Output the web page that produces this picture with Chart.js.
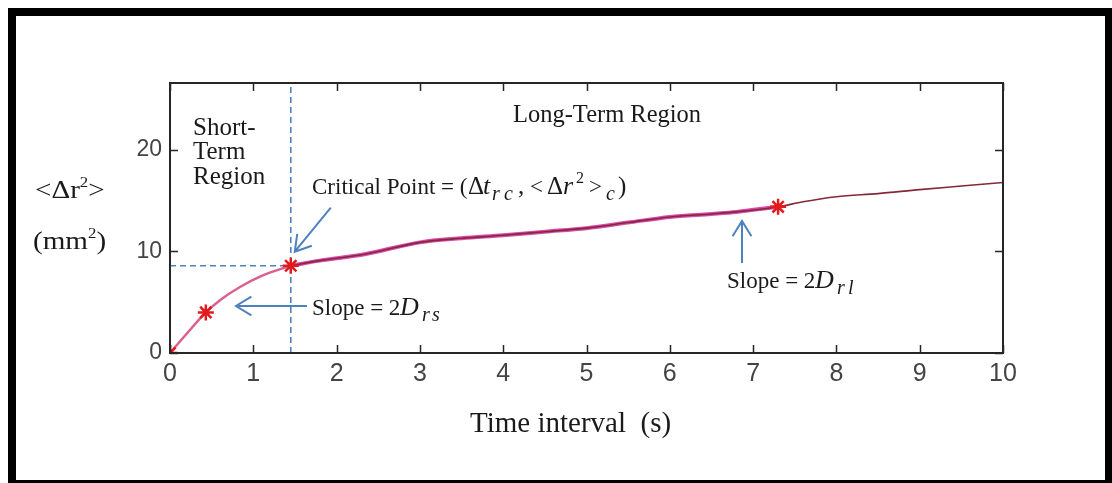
<!DOCTYPE html>
<html>
<head>
<meta charset="utf-8">
<script src="https://cdn.jsdelivr.net/npm/chart.js@4.4.1/dist/chart.umd.min.js"></script>
<style>
  body { margin: 0; background: #fff; }
  #wrap { position: relative; width: 1112px; height: 483px; overflow: hidden; background: #fff; }
  #myChart { position: absolute; left: 0; top: 0; }
  #frame {
    position: absolute; left: 8px; top: 8px; width: 1104px; height: 475px;
    box-sizing: border-box; border: solid #000; border-width: 8px 7px 3px 8px;
    pointer-events: none;
  }
</style>
</head>
<body>
<div id="wrap">
  <canvas id="myChart" width="1112" height="483"></canvas>
  <div id="frame"></div>
</div>
<script>
// MSD curve
const timeVals = [0, 0.2, 0.43, 0.6, 0.84, 1.1, 1.45, 1.8, 2.32, 3, 3.5, 4, 4.5, 5, 5.5, 6, 6.5, 6.8, 7.3, 7.6, 8, 8.5, 9, 9.5, 10];
const msdVals  = [0, 1.9, 4.0, 5.2, 6.5, 7.6, 8.6, 9.1, 9.7, 10.9, 11.3, 11.6, 11.95, 12.3, 12.85, 13.4, 13.7, 13.9, 14.4, 14.9, 15.4, 15.7, 16.1, 16.45, 16.8];

// red star markers
const starTime = [0, 0.43, 1.45, 7.3];
const starMsd  = [0, 4.0, 8.6, 14.4];

// critical point
const critTime = 1.45;
const critMsd = 8.6;

// axes
const xTickVals = [0, 1, 2, 3, 4, 5, 6, 7, 8, 9, 10];
const yTickVals = [0, 10, 20];
const xMax = 10;
const yMax = 26.6;

const pts = (xs, ys) => xs.map((x, i) => ({ x: x, y: ys[i] }));
const allPts = pts(timeVals, msdVals);
const shortPts = allPts.filter(p => p.x <= critTime);
const longPts = allPts.filter(p => p.x >= critTime);
const midPts = allPts.filter(p => p.x >= critTime && p.x <= 7.3);

const serif = '"Liberation Serif", "Times New Roman", serif';
const sans = '"Liberation Sans", Arial, sans-serif';
const blue = '#4f81bd';

// runs of text, each one placed at its own x (relative to x0)
const drawAt = (ctx, x0, y0, parts) => {
  parts.forEach(p => {
    ctx.font = p.f;
    ctx.fillText(p.t, x0 + p.x, y0 + (p.dy || 0));
  });
};

// runs of text placed one after the other
const drawRuns = (ctx, x, y, parts) => {
  parts.forEach(p => {
    ctx.font = p.f;
    ctx.fillText(p.t, x, y + (p.dy || 0));
    x += ctx.measureText(p.t).width + (p.gap || 0);
  });
};

const drawArrow = (ctx, x1, y1, x2, y2) => {
  const ang = Math.atan2(y2 - y1, x2 - x1);
  const len = 18, spread = 0.55;
  ctx.beginPath();
  ctx.moveTo(x1, y1);
  ctx.lineTo(x2, y2);
  ctx.moveTo(x2 - len * Math.cos(ang - spread), y2 - len * Math.sin(ang - spread));
  ctx.lineTo(x2, y2);
  ctx.lineTo(x2 - len * Math.cos(ang + spread), y2 - len * Math.sin(ang + spread));
  ctx.stroke();
};

const decor = {
  id: 'decor',
  afterDatasetsDraw(chart) {
    const ctx = chart.ctx;
    const a = chart.chartArea;
    const xs = chart.scales.x, ys = chart.scales.y;
    ctx.save();

    // box + inward ticks
    ctx.strokeStyle = '#262626';
    ctx.lineWidth = 2;
    ctx.strokeRect(a.left, a.top, a.right - a.left, a.bottom - a.top);
    ctx.lineWidth = 1.5;
    ctx.beginPath();
    xTickVals.forEach(v => {
      const px = Math.round(xs.getPixelForValue(v)) + 0.5;
      ctx.moveTo(px, a.bottom); ctx.lineTo(px, a.bottom - 8);
      ctx.moveTo(px, a.top); ctx.lineTo(px, a.top + 8);
    });
    yTickVals.forEach(v => {
      const py = Math.round(ys.getPixelForValue(v)) + 0.5;
      ctx.moveTo(a.left, py); ctx.lineTo(a.left + 8, py);
      ctx.moveTo(a.right, py); ctx.lineTo(a.right - 8, py);
    });
    ctx.stroke();

    // arrows
    ctx.strokeStyle = blue;
    ctx.lineWidth = 2;
    const cx = xs.getPixelForValue(critTime), cy = ys.getPixelForValue(critMsd);
    drawArrow(ctx, cx + 40, cy - 58, cx + 4, cy - 14);
    drawArrow(ctx, 307, 306, 236, 306);
    drawArrow(ctx, 742, 263, 742, 221);

    // texts
    ctx.fillStyle = '#1a1a1a';
    ctx.textBaseline = 'alphabetic';
    ctx.textAlign = 'left';
    ctx.font = '25px ' + serif;
    ctx.fillText('Short-', 193, 135);
    ctx.fillText('Term', 193, 159);
    ctx.fillText('Region', 193, 184);
    ctx.font = '24.5px ' + serif;
    ctx.fillText('Long-Term Region', 513, 122);

    const n23 = '23px ' + serif;
    const n25 = '25px ' + serif;
    const i26 = 'italic 26px ' + serif;
    const i20 = 'italic 20px ' + serif;
    const n16 = '16px ' + serif;
    drawAt(ctx, 312, 194, [
      { t: 'Critical Point = (', f: n23, x: 0 },
      { t: 'Δ', f: n25, x: 156 },
      { t: 't', f: i26, x: 171 },
      { t: 'r', f: i20, x: 180, dy: 6 },
      { t: 'c', f: i20, x: 192, dy: 6 },
      { t: ',', f: n25, x: 206 },
      { t: '<', f: n23, x: 218 },
      { t: 'Δ', f: n25, x: 235 },
      { t: 'r', f: i26, x: 251 },
      { t: '2', f: n16, x: 264, dy: -11 },
      { t: '>', f: n23, x: 277 },
      { t: 'c', f: i20, x: 294, dy: 6 },
      { t: ')', f: n25, x: 306 }
    ]);
    drawAt(ctx, 312, 315, [
      { t: 'Slope = 2', f: n23, x: 0 },
      { t: 'D', f: i26, x: 88 },
      { t: 'r', f: i20, x: 110, dy: 6 },
      { t: 's', f: i20, x: 120, dy: 6 }
    ]);
    drawAt(ctx, 727, 288, [
      { t: 'Slope = 2', f: n23, x: 0 },
      { t: 'D', f: i26, x: 88 },
      { t: 'r', f: i20, x: 110, dy: 6 },
      { t: 'l', f: i20, x: 121, dy: 6 }
    ]);

    // axis titles
    ctx.save();
    ctx.translate(35, 198);
    ctx.scale(1.12, 1);
    drawRuns(ctx, 0, 0, [
      { t: '<Δr', f: '26px ' + serif },
      { t: '2', f: '15px ' + serif, dy: -11 },
      { t: '>', f: '26px ' + serif }
    ]);
    ctx.restore();
    ctx.save();
    ctx.translate(33, 249);
    ctx.scale(1.12, 1);
    drawRuns(ctx, 0, 0, [
      { t: '(mm', f: '26px ' + serif },
      { t: '2', f: '15px ' + serif, dy: -11 },
      { t: ')', f: '26px ' + serif }
    ]);
    ctx.restore();
    ctx.font = '29px ' + serif;
    ctx.fillText('Time interval  (s)', 470, 432);
    ctx.restore();
  }
};

new Chart(document.getElementById('myChart'), {
  type: 'line',
  data: {
    datasets: [
      {
        label: 'stars', data: pts(starTime, starMsd), showLine: false, order: 0,
        pointStyle: 'star', pointRadius: 8, borderWidth: 2.5,
        borderColor: '#e31a1c', backgroundColor: '#e31a1c'
      },
      {
        label: 'long', data: longPts, order: 1, borderColor: '#84283a', borderWidth: 1.6,
        pointRadius: 0, cubicInterpolationMode: 'monotone'
      },
      {
        label: 'fit', data: midPts, order: 2, borderColor: '#d94aae', borderWidth: 4,
        pointRadius: 0, cubicInterpolationMode: 'monotone'
      },
      {
        label: 'short', data: shortPts, order: 2, borderColor: '#d9608f', borderWidth: 2.5,
        pointRadius: 0, cubicInterpolationMode: 'monotone'
      },
      {
        label: 'vcrit', data: [{ x: critTime, y: 0 }, { x: critTime, y: yMax }], order: 3,
        borderColor: blue, borderWidth: 1.6, borderDash: [6, 4], pointRadius: 0
      },
      {
        label: 'hcrit', data: [{ x: 0, y: critMsd }, { x: critTime, y: critMsd }], order: 3,
        borderColor: blue, borderWidth: 1.6, borderDash: [6, 4], pointRadius: 0
      }
    ]
  },
  options: {
    responsive: false,
    animation: false,
    devicePixelRatio: 1,
    layout: { padding: { top: 83, right: 109, left: 0, bottom: 0 } },
    plugins: { legend: { display: false }, tooltip: { enabled: false } },
    scales: {
      x: {
        type: 'linear', min: 0, max: xMax,
        grid: { display: false, drawTicks: false },
        border: { display: false },
        afterBuildTicks: s => { s.ticks = xTickVals.map(v => ({ value: v })); },
        afterFit: s => { s.height = 130; },
        ticks: {
          autoSkip: false, maxRotation: 0, padding: 6, color: '#444',
          font: { family: sans, size: 25 }
        }
      },
      y: {
        type: 'linear', min: 0, max: yMax,
        grid: { display: false, drawTicks: false },
        border: { display: false },
        afterBuildTicks: s => { s.ticks = yTickVals.map(v => ({ value: v })); },
        afterFit: s => { s.width = 170; },
        ticks: {
          padding: 8, color: '#444',
          font: { family: sans, size: 23 }
        }
      }
    }
  },
  plugins: [decor]
});
</script>
</body>
</html>
